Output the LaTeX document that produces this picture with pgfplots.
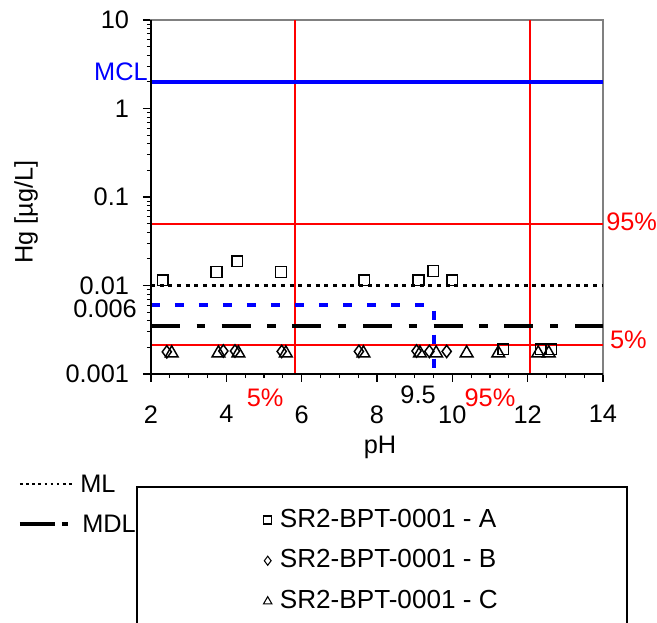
\documentclass[border=0pt]{standalone}
\usepackage{pgfplots}
\pgfplotsset{compat=1.18}
\usepackage{fontspec}
\setmainfont{Liberation Sans}
\definecolor{pured}{RGB}{255,0,0}
\newcommand{\ff}{\fontsize{19}{23}\selectfont}
\newcommand{\fl}{\fontsize{19.6}{23}\selectfont}
\begin{document}
\ff
\begin{tikzpicture}
\useasboundingbox (-113.25pt,-186pt) rectangle (379.5pt,280.5pt);
\begin{axis}[
  at={(0,0)}, anchor=south west, scale only axis,
  width=339pt, height=265.5pt,
  xmin=2, xmax=14, ymin=0.001, ymax=10, ymode=log,
  xtick={2,4,...,14}, minor x tick num=3,
  ytick={0.001,0.01,0.1,1,10}, yticklabels={0.001,0.01,0.1,1,10},
  xtick pos=left, ytick pos=left, tick align=outside,
  major tick length=6pt, minor tick length=3pt,
  every tick/.style={black, line width=0.8pt},
  axis line style={gray, line width=0.9pt},
  /pgf/number format/assume math mode=true,
  tick label style={font=\ff},
  xticklabel style={yshift=-11pt},
  yticklabel style={xshift=-4pt},
  clip=false,
  legend style={at={(0.511,-0.373)}, anchor=north,
    draw=none, fill=none, inner sep=0pt, row sep=10pt, font=\fl,
    /tikz/every odd column/.append style={column sep=4pt}},
  legend cell align=left,
]
\addplot[draw=pured, line width=1.1pt, forget plot] coordinates {(5.82,0.001) (5.82,10)};
\addplot[draw=pured, line width=1.1pt, forget plot] coordinates {(12.06,0.001) (12.06,10)};
\addplot[draw=pured, line width=1.4pt, forget plot] coordinates {(2,0.05) (14,0.05)};
\addplot[draw=pured, line width=1.5pt, forget plot] coordinates {(2,0.00212) (14,0.00212)};
\addplot[blue, line width=3pt, forget plot] coordinates {(2,2) (14,2)};
\addplot[black, line width=2pt, dash pattern=on 3pt off 3.5pt, forget plot] coordinates {(2,0.01) (14,0.01)};
\addplot[blue, line width=3pt, dash pattern=on 6.75pt off 11.25pt, forget plot] coordinates {(2,0.006) (9.5,0.006) (9.5,0.0009)};
\addplot[black, line width=3pt, dash pattern=on 21.75pt off 12.5pt on 6.25pt off 12.5pt, forget plot] coordinates {(2,0.0035) (14,0.0035)};

\addplot[only marks, mark=square, mark size=4pt, black, line width=1.1pt,
  legend image post style={mark size=3pt, line width=0.8pt}] coordinates {
  (2.31,0.0115) (3.74,0.0142) (4.29,0.0188) (5.45,0.0142) (7.66,0.0115)
  (9.10,0.0115) (9.49,0.0146) (10.0,0.0115) (11.35,0.0019) (12.35,0.0019) (12.62,0.0019)};
\addlegendentry{SR2-BPT-0001 - A}
\addplot[only marks, mark=diamond, mark size=4.6pt, black, line width=1.1pt,
  legend image post style={mark size=3.4pt, line width=0.8pt}] coordinates {
  (2.42,0.00178) (3.92,0.00182) (4.23,0.00182) (5.47,0.0018) (7.52,0.0018)
  (9.05,0.00182) (9.39,0.0018) (9.85,0.0018)};
\addlegendentry{SR2-BPT-0001 - B}
\addplot[only marks, mark=triangle, mark size=5.5pt, black, line width=1.1pt,
  legend image post style={mark size=3.6pt, line width=0.8pt}] coordinates {
  (2.55,0.00172) (3.79,0.00172) (4.32,0.00172) (5.58,0.00172) (7.64,0.00172)
  (9.14,0.00172) (9.57,0.00172) (10.38,0.00172) (11.22,0.00172) (12.28,0.00172) (12.56,0.00172)};
\addlegendentry{SR2-BPT-0001 - C}

\draw[black, line width=1pt] (rel axis cs:0,1) -- (rel axis cs:0,0) -- (rel axis cs:1,0);

\node[blue, anchor=east, inner sep=0pt] at (axis cs:1.92,2.58) {MCL};
\node[anchor=east, inner sep=0pt] at (axis cs:1.63,0.0055) {0.006};
\node[inner sep=0pt] at (axis cs:9.09,0.00058) {9.5};
\node[pured, inner sep=0pt] at (axis cs:5.03,0.000535) {5\%};
\node[pured, inner sep=0pt] at (axis cs:11.0,0.000535) {95\%};
\node[pured, anchor=west, inner sep=0pt] at (axis cs:14.08,0.0522) {95\%};
\node[pured, anchor=west, inner sep=0pt] at (axis cs:14.18,0.00242) {5\%};
\end{axis}
\draw[black, line width=0.8pt] (-10.5pt,-84.75pt) rectangle (357pt,-200pt);
\node[rotate=90] at (-93.75pt,121.5pt) {Hg [µg/L]};
\node at (171.75pt,-54.75pt) {pH};
\draw[black, line width=0.8pt, dash pattern=on 2pt off 2.6pt] (-98.25pt,-82.5pt) -- (-57pt,-82.5pt);
\node[anchor=west, inner sep=0pt] at (-53.25pt,-82.5pt) {ML};
\draw[black, line width=3pt] (-98.25pt,-112.5pt) -- (-72pt,-112.5pt);
\draw[black, line width=3pt] (-66.75pt,-112.5pt) -- (-62.25pt,-112.5pt);
\node[anchor=west, inner sep=0pt] at (-51.75pt,-112.5pt) {MDL};
\end{tikzpicture}
\end{document}
